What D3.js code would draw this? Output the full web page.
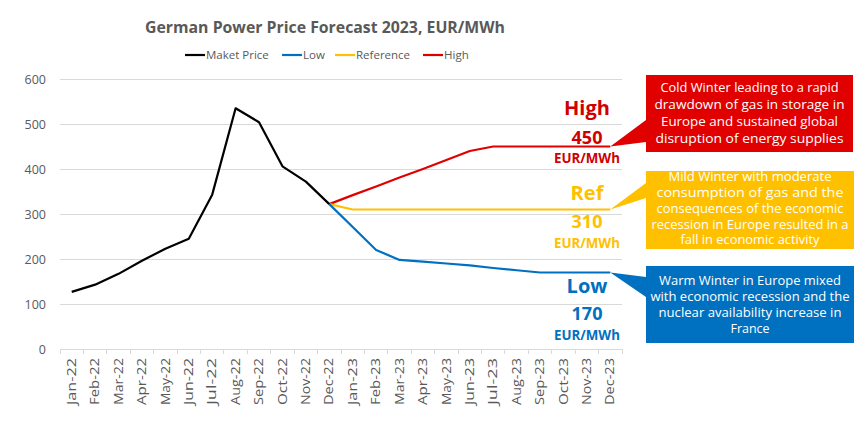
<!DOCTYPE html>
<html>
<head>
<meta charset="utf-8">
<script src="https://cdn.jsdelivr.net/npm/d3@7"></script>
<style>
  html, body { margin: 0; padding: 0; background: #fff; }
  svg { display: block; font-family: "Open Sans", "DejaVu Sans", sans-serif; }
</style>
</head>
<body>
<svg id="chart" width="863" height="423"></svg>
<script>
// ---------------- DATA ----------------
const months = ["Jan-22","Feb-22","Mar-22","Apr-22","May-22","Jun-22","Jul-22","Aug-22","Sep-22","Oct-22","Nov-22","Dec-22",
                "Jan-23","Feb-23","Mar-23","Apr-23","May-23","Jun-23","Jul-23","Aug-23","Sep-23","Oct-23","Nov-23","Dec-23"];
const marketPrice = [127,143,167,196,223,245,343,535,504,406,372,322, null,null,null,null,null,null,null,null,null,null,null,null];
const lowSeries   = [null,null,null,null,null,null,null,null,null,null,null,322, 271,220,198,194,190,186,180,175,170,170,170,170];
const refSeries   = [null,null,null,null,null,null,null,null,null,null,null,322, 310,310,310,310,310,310,310,310,310,310,310,310];
const highSeries  = [null,null,null,null,null,null,null,null,null,null,null,322, 342,361,381,400,420,440,450,450,450,450,450,450];
const seriesNames = ["Maket Price","Low","Reference","High"];
const yTicks = [0,100,200,300,400,500,600];
const title = "German Power Price Forecast 2023, EUR/MWh";
const scenarioLabels = ["High","Ref","Low"];
const unitLabel = "EUR/MWh";
const highText = ["Cold Winter leading to a rapid","drawdown of gas in storage in","Europe and sustained global","disruption of energy supplies"];
const refText  = ["Mild Winter with moderate","consumption of gas and the","consequences of the economic","recession in Europe resulted in a","fall in economic activity"];
const lowText  = ["Warm Winter in Europe mixed","with economic recession and the","nuclear availability increase in","France"];

// ---------------- LAYOUT ----------------
const svg = d3.select("#chart");
const colors = { market:"#000000", low:"#0070C0", ref:"#FFC000", high:"#E00000" };
const textGray = "#595959";
const grid = "#D9D9D9";

const x = d3.scaleBand().domain(months).range([60, 622]).padding(0);
const cx = d => x(d) + x.bandwidth()/2;
const y = d3.scaleLinear().domain([0, 600]).range([349, 79]);

function fitWidth(el, w) {
  const fs = parseFloat(el.style.fontSize);
  const len = el.getComputedTextLength();
  if (len > 0) el.style.fontSize = (fs * w / len).toFixed(2) + "px";
}

// gridlines
svg.append("g").selectAll("line").data(yTicks).join("line")
  .attr("x1", 60).attr("x2", 622)
  .attr("y1", d => y(d)).attr("y2", d => y(d))
  .attr("stroke", grid).attr("stroke-width", 1).attr("shape-rendering","crispEdges");

// y axis labels
const yAxis = d3.axisLeft(y).tickValues(yTicks).tickSize(0).tickPadding(0);
const gy = svg.append("g").attr("transform", "translate(46,0)").call(yAxis);
gy.select(".domain").remove();
gy.selectAll("text").attr("fill", textGray).style("font-size","12.5px").attr("font-family","Open Sans, sans-serif").attr("dy","0.35em");

// x axis
const xAxis = d3.axisBottom(x).tickSize(0).tickPadding(0);
const gx = svg.append("g").attr("transform", `translate(0,${y(0)})`).call(xAxis);
gx.select(".domain").attr("stroke", grid).attr("shape-rendering","crispEdges");
gx.selectAll(".tick text")
  .attr("fill", textGray).style("font-size","12px").attr("font-family","Open Sans, sans-serif")
  .attr("text-anchor","end").attr("transform","rotate(-90)")
  .attr("x", -9).attr("y", 0).attr("dy","0.35em")
  .attr("textLength", 47).attr("lengthAdjust", "spacingAndGlyphs");
// category boundary ticks
svg.append("g").selectAll("line").data(d3.range(months.length + 1)).join("line")
  .attr("x1", i => 60 + i * x.bandwidth()).attr("x2", i => 60 + i * x.bandwidth())
  .attr("y1", y(0)).attr("y2", y(0) + 5)
  .attr("stroke", grid).attr("shape-rendering","crispEdges");

// lines
const line = d3.line().defined(d => d.v != null).x(d => cx(d.m)).y(d => y(d.v));
const mk = arr => months.map((m,i) => ({m, v: arr[i]}));
const seriesList = [
  {vals: highSeries, color: colors.high},
  {vals: refSeries, color: colors.ref},
  {vals: lowSeries, color: colors.low},
  {vals: marketPrice, color: colors.market}
];
svg.append("g").selectAll("path").data(seriesList).join("path")
  .attr("d", s => line(mk(s.vals)))
  .attr("fill","none").attr("stroke", s => s.color).attr("stroke-width", 2.2)
  .attr("stroke-linejoin","round");

// title
svg.append("text").attr("x", 325).attr("y", 33).attr("text-anchor","middle")
  .attr("fill", textGray).style("font-size","16px").style("font-weight","bold").text(title)
  .each(function(){ fitWidth(this, 360); });

// legend
const legendColors = [colors.market, colors.low, colors.ref, colors.high];
const legendX = [185, 282, 335, 423];
const lg = svg.append("g");
seriesNames.forEach((n,i) => {
  lg.append("line").attr("x1", legendX[i]).attr("x2", legendX[i] + 20)
    .attr("y1", 55).attr("y2", 55).attr("stroke", legendColors[i]).attr("stroke-width", 2.2);
  lg.append("text").attr("x", legendX[i] + 21).attr("y", 55).attr("dy","0.35em")
    .attr("fill", textGray).style("font-size","11.5px").text(n);
});

// scenario labels
const lastIdx = months.length - 1;
const labelCfg = [
  {name: scenarioLabels[0], val: highSeries[lastIdx], color: "#D00000", ys: [115, 144, 163]},
  {name: scenarioLabels[1], val: refSeries[lastIdx],  color: colors.ref,  ys: [200, 228, 248]},
  {name: scenarioLabels[2], val: lowSeries[lastIdx],  color: colors.low,  ys: [293, 320, 340]}
];
labelCfg.forEach(c => {
  const g = svg.append("g").attr("fill", c.color).style("font-weight","bold").attr("text-anchor","middle");
  g.append("text").attr("x", 587).attr("y", c.ys[0]).style("font-size","20px").text(c.name);
  g.append("text").attr("x", 587).attr("y", c.ys[1]).style("font-size","18px").text(c.val);
  g.append("text").attr("x", 587).attr("y", c.ys[2]).style("font-size","12px").text(unitLabel)
    .each(function(){ fitWidth(this, 66); });
});

// callouts
const boxes = [
  {text: highText, color: colors.high, bx: 646, by: 75,  bw: 207, bh: 77, base: [120, 142], val: highSeries[lastIdx], lh: 17, cy: 113.5},
  {text: refText,  color: colors.ref,  bx: 646, by: 171, bw: 208, bh: 78, base: [183, 198], val: refSeries[lastIdx],  lh: 15.8, cy: 208.5},
  {text: lowText,  color: colors.low,  bx: 646, by: 266, bw: 208, bh: 77, base: [277, 297], val: lowSeries[lastIdx],  lh: 16, cy: 304.7}
];
const textWidths = [[178,190,177,188],[163,187,187,197,139],[182,199,183,39]];
boxes.forEach((b, bi) => {
  const tipX = cx(months[lastIdx]), tipY = y(b.val);
  const p = d3.path();
  p.moveTo(b.bx, b.by); p.lineTo(b.bx + b.bw, b.by); p.lineTo(b.bx + b.bw, b.by + b.bh);
  p.lineTo(b.bx, b.by + b.bh); p.lineTo(b.bx, b.base[1]); p.lineTo(tipX, tipY); p.lineTo(b.bx, b.base[0]); p.closePath();
  svg.append("path").attr("d", p.toString()).attr("fill", b.color);
  const n = b.text.length;
  b.text.forEach((t, i) => {
    svg.append("text").attr("x", b.bx + b.bw/2).attr("y", b.cy + (i - (n-1)/2) * b.lh)
      .attr("dy","0.35em").attr("text-anchor","middle").attr("fill","#fff")
      .style("font-size", "12.5px").text(t)
      .attr("textLength", textWidths[bi][i]).attr("lengthAdjust", "spacingAndGlyphs");
  });
});
</script>
</body>
</html>
